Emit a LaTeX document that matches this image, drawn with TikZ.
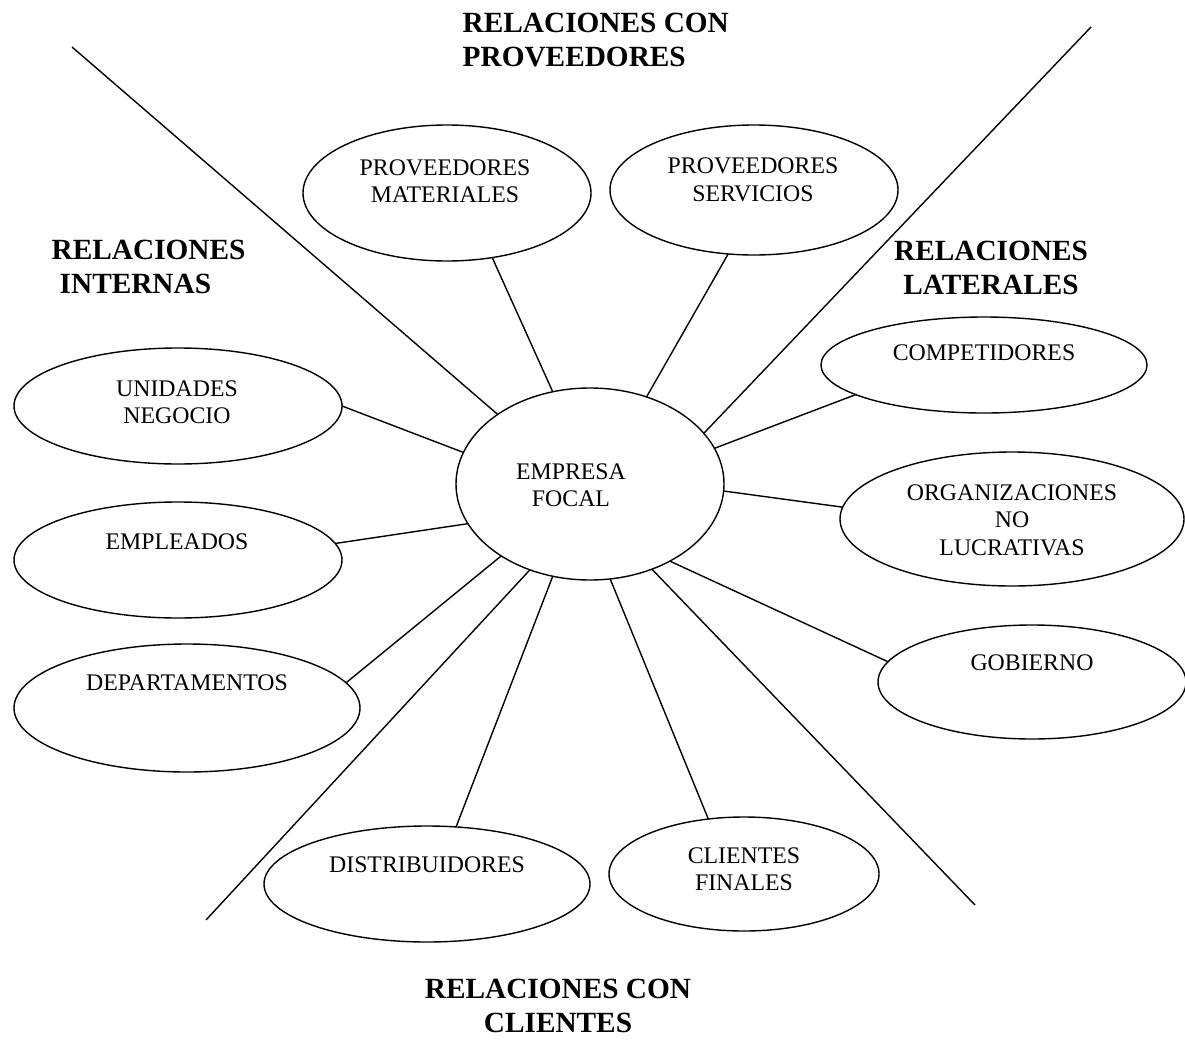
\documentclass[tikz,border=0pt]{standalone}
\usepackage{fontspec}
\setmainfont{Liberation Serif}
\usetikzlibrary{shapes.geometric}

\begin{document}
\begin{tikzpicture}[x=1pt,y=-1pt,line width=1.4pt,
  oval/.style={draw, ellipse, inner sep=0pt, outer sep=0pt},
  txt/.style={align=center, inner sep=0pt, font=\fontsize{23.8}{27.5}\selectfont},
  head/.style={align=center, inner sep=0pt, font=\fontsize{29.3}{34}\selectfont\bfseries}]

\useasboundingbox (0,0) rectangle (1185,1041);

% ellipses
\node[oval, minimum width=268, minimum height=192] (empresa)  at (590,484) {};
\node[oval, minimum width=288, minimum height=136] (provmat)  at (447,193) {};
\node[oval, minimum width=288, minimum height=130] (provserv) at (754,190) {};
\node[oval, minimum width=326, minimum height=96]  (comp)     at (984,365) {};
\node[oval, minimum width=344, minimum height=134] (org)      at (1012,519) {};
\node[oval, minimum width=308, minimum height=114] (gob)      at (1032,682) {};
\node[oval, minimum width=270, minimum height=114] (clifin)   at (744,874) {};
\node[oval, minimum width=326, minimum height=116] (distrib)  at (427,884) {};
\node[oval, minimum width=346, minimum height=128] (depart)   at (187,708) {};
\node[oval, minimum width=328, minimum height=116] (emple)    at (178,560) {};
\node[oval, minimum width=328, minimum height=116] (unidades) at (178,406) {};

% texts
\node[txt] (empresa-t)  at (571,485) {EMPRESA\\FOCAL};
\node[txt] (provmat-t)  at (445,181) {PROVEEDORES\\MATERIALES};
\node[txt] (provserv-t) at (753,180) {PROVEEDORES\\SERVICIOS};
\node[txt] (comp-t)     at (984,353) {COMPETIDORES};
\node[txt] (org-t)      at (1012,520) {ORGANIZACIONES\\NO\\LUCRATIVAS};
\node[txt] (gob-t)      at (1032,663) {GOBIERNO};
\node[txt] (clifin-t)   at (744,869) {CLIENTES\\FINALES};
\node[txt] (distrib-t)  at (427,865) {DISTRIBUIDORES};
\node[txt] (depart-t)   at (187,683) {DEPARTAMENTOS};
\node[txt] (emple-t)    at (177,542) {EMPLEADOS};
\node[txt] (unidades-t) at (177,402) {UNIDADES\\NEGOCIO};

% connectors
\foreach \a/\n/\b in {112.7/provmat/-55.7, 57.7/provserv/248.1, 16.1/comp/193,
    -3/org/176.6, -44.6/gob/172.9, -78.2/clifin/123.7, 248.4/distrib/63.4,
    219/depart/9.5, 198.4/emple/6.7, 166.6/unidades/-0.7}
    \draw (empresa.\a) -- (\n.\b);

% dividing lines
\coordinate (nw) at (72,47);
\coordinate (ne) at (1091,27);
\coordinate (sw) at (206,920);
\coordinate (se) at (975,905);

\foreach \a/\c in {143.2/nw, 24.3/ne, 235.2/sw, -54.7/se}
    \draw (empresa.\a) -- (\c);

% headings
\node[head, align=left, anchor=west] (hprov) at (462,40) {RELACIONES CON\\PROVEEDORES};
\node[head, align=left, anchor=west] (hint)  at (51,267) {RELACIONES\\\hspace*{8pt}INTERNAS};
\node[head] (hlat) at (991,268) {RELACIONES\\LATERALES};
\node[head] (hcli) at (558,1006) {RELACIONES CON\\CLIENTES};

\end{tikzpicture}
\end{document}
